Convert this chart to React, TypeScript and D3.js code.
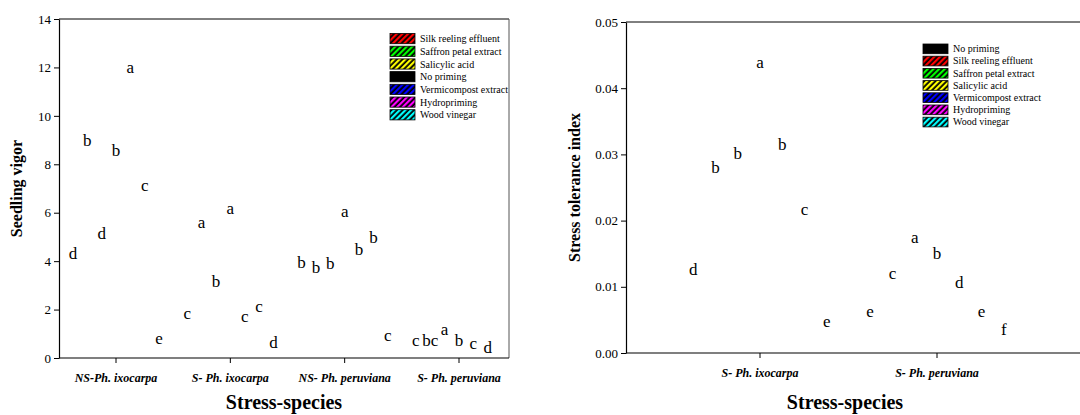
import React, { useEffect, useRef } from 'react';
import * as d3 from 'd3';

// left panel: seedling vigor
const vigorGroups = ['NS-Ph. ixocarpa', 'S- Ph. ixocarpa', 'NS- Ph. peruviana', 'S- Ph. peruviana'];
const vigorTreatments = ['Silk reeling effluent', 'Saffron petal extract', 'Salicylic acid', 'No priming', 'Vermicompost extract', 'Hydropriming', 'Wood vinegar'];
const vigorValues = [
  [3.97, 8.64, 4.78, 8.22, 11.65, 6.78, 0.46],
  [1.49, 5.25, 2.81, 5.83, 1.37, 1.78, 0.29],
  [3.58, 3.38, 3.54, 5.68, 4.13, 4.63, 0.58],
  [0.38, 0.38, 0.83, 0.38, 0.25, 0.08, 0],
];
const vigorLetters = [
  ['d', 'b', 'd', 'b', 'a', 'c', 'e'],
  ['c', 'a', 'b', 'a', 'c', 'c', 'd'],
  ['b', 'b', 'b', 'a', 'b', 'b', 'c'],
  ['c', 'bc', 'a', 'b', 'c', 'd', ''],
];
const vigorTicks = [0, 2, 4, 6, 8, 10, 12, 14];

// right panel: stress tolerance index
const stiGroups = ['S- Ph. ixocarpa', 'S- Ph. peruviana'];
const stiTreatments = ['No priming', 'Silk reeling effluent', 'Saffron petal extract', 'Salicylic acid', 'Vermicompost extract', 'Hydropriming', 'Wood vinegar'];
const stiValues = [
  [0.0113, 0.0268, 0.0288, 0.0426, 0.0302, 0.0204, 0.0035],
  [0.0050, 0.0108, 0.0162, 0.0138, 0.0093, 0.0050, 0.0022],
];
const stiLetters = [
  ['d', 'b', 'b', 'a', 'b', 'c', 'e'],
  ['e', 'c', 'a', 'b', 'd', 'e', 'f'],
];
const stiTicks = [0, 0.01, 0.02, 0.03, 0.04, 0.05];

const swatchColors: Record<string, string> = {
  'No priming': '#000000',
  'Silk reeling effluent': '#ff0000',
  'Saffron petal extract': '#00ff00',
  'Salicylic acid': '#ffff00',
  'Vermicompost extract': '#0000ff',
  'Hydropriming': '#ff00ff',
  'Wood vinegar': '#00ffff',
};

const FONT = '"Liberation Serif", "Times New Roman", serif';

const App = () => {
  const svgRef = useRef<SVGSVGElement>(null);

  useEffect(() => {
    const svg = d3.select(svgRef.current);
    svg.selectAll('*').remove();

    const defs = svg.append('defs');
    Object.entries(swatchColors).forEach(([name, col], i) => {
      const p = defs.append('pattern')
        .attr('id', 'hatch' + i)
        .attr('patternUnits', 'userSpaceOnUse')
        .attr('width', 4).attr('height', 4)
        .attr('patternTransform', 'rotate(45)');
      p.append('rect').attr('width', 4).attr('height', 4).attr('fill', '#000');
      p.append('rect').attr('width', 2.2).attr('height', 4).attr('fill', col);
    });
    const fillFor = (name: string) => {
      if (name === 'No priming') return '#000';
      return `url(#hatch${Object.keys(swatchColors).indexOf(name)})`;
    };

    const drawPanel = (opts: any) => {
      const { groups, treatments, values, letters, ticks, yDomain, left, right, top, bottom,
        groupRange, innerHalf, tickFmt, yTitle, yTitleOff, titleX, legendX, legendY, legendStep, frameRight } = opts;
      const g = svg.append('g');

      const y = d3.scaleLinear().domain(yDomain).range([bottom, top]);
      const x0 = d3.scalePoint<string>().domain(groups).range(groupRange);
      const x1 = d3.scaleBand<number>().domain(d3.range(treatments.length)).range([-innerHalf, innerHalf]);

      // frame
      g.append('line').attr('x1', left).attr('x2', right).attr('y1', top).attr('y2', top)
        .attr('stroke', '#000').attr('stroke-width', 1);
      if (frameRight) {
        g.append('line').attr('x1', right).attr('x2', right).attr('y1', top).attr('y2', bottom)
          .attr('stroke', '#555').attr('stroke-width', 1);
      }

      const yAxis = g.append('g').attr('transform', `translate(${left},0)`)
        .call(d3.axisLeft(y).tickValues(ticks).tickSize(5).tickSizeOuter(0).tickFormat(tickFmt));
      yAxis.attr('font-family', FONT);
      yAxis.select('.domain').attr('stroke', '#000').attr('stroke-width', 1.2);
      yAxis.selectAll('text').attr('font-family', FONT).attr('font-size', 13).attr('fill', '#000').attr('x', -8);

      g.append('line').attr('x1', left).attr('x2', right).attr('y1', bottom).attr('y2', bottom)
        .attr('stroke', '#000').attr('stroke-width', 1.2);
      groups.forEach((gr: string) => {
        const cx = x0(gr)!;
        g.append('line').attr('x1', cx).attr('x2', cx).attr('y1', bottom).attr('y2', bottom + 5).attr('stroke', '#000');
        g.append('text').attr('x', cx).attr('y', bottom + 24).attr('text-anchor', 'middle')
          .attr('font-family', FONT).attr('font-size', 12).attr('font-weight', 'bold').attr('font-style', 'italic')
          .text(gr);
      });

      // significance letters above each (hidden) bar
      groups.forEach((gr: string, gi: number) => {
        values[gi].forEach((v: number, ti: number) => {
          g.append('text')
            .attr('x', x0(gr)! + x1(ti)! + x1.bandwidth() / 2)
            .attr('y', y(v) - 3)
            .attr('text-anchor', 'middle')
            .attr('font-family', FONT).attr('font-size', 17)
            .text(letters[gi][ti]);
        });
      });

      g.append('text').attr('x', titleX).attr('y', 409).attr('text-anchor', 'middle')
        .attr('font-family', FONT).attr('font-size', 20).attr('font-weight', 'bold').text('Stress-species');
      g.append('text')
        .attr('transform', `translate(${left - yTitleOff},${(top + bottom) / 2}) rotate(-90)`)
        .attr('text-anchor', 'middle')
        .attr('font-family', FONT).attr('font-size', 16).attr('font-weight', 'bold').text(yTitle);

      const leg = g.append('g').attr('transform', `translate(${legendX},${legendY})`);
      treatments.forEach((t: string, i: number) => {
        leg.append('rect').attr('x', 0).attr('y', i * legendStep).attr('width', 25).attr('height', legendStep - 2.5)
          .attr('fill', fillFor(t)).attr('stroke', '#000').attr('stroke-width', 0.8);
        leg.append('text').attr('x', 30).attr('y', i * legendStep + legendStep - 4)
          .attr('font-family', FONT).attr('font-size', 10).text(t);
      });
    };

    drawPanel({
      groups: vigorGroups, treatments: vigorTreatments, values: vigorValues, letters: vigorLetters,
      ticks: vigorTicks, yDomain: [0, 14], left: 59, right: 509, top: 19, bottom: 358,
      groupRange: [116, 459], innerHalf: 50.3, tickFmt: d3.format('d'), yTitle: 'Seedling vigor', yTitleOff: 37,
      titleX: 284, legendX: 390, legendY: 33.5, legendStep: 12.7, frameRight: true,
    });
    drawPanel({
      groups: stiGroups, treatments: stiTreatments, values: stiValues, letters: stiLetters,
      ticks: stiTicks, yDomain: [0, 0.05], left: 626, right: 1085, top: 22, bottom: 353,
      groupRange: [760, 937], innerHalf: 78, tickFmt: d3.format('.2f'), yTitle: 'Stress tolerance index', yTitleOff: 46,
      titleX: 845, legendX: 923, legendY: 44, legendStep: 12.2, frameRight: false,
    });
  }, []);

  return (
    <svg ref={svgRef} width={1080} height={415}
      style={{ position: 'absolute', left: 0, top: 0, background: '#fff' }} />
  );
};

export default App;
